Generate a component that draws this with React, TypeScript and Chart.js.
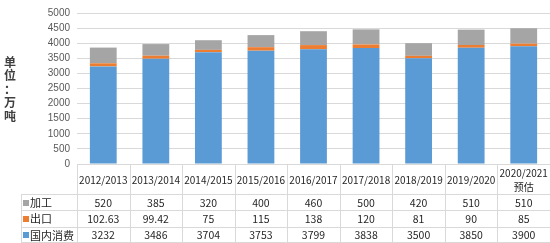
import { useEffect, useRef } from "react";
import { Chart, registerables } from "chart.js";

Chart.register(...registerables);

const categories = [
  "2012/2013",
  "2013/2014",
  "2014/2015",
  "2015/2016",
  "2016/2017",
  "2017/2018",
  "2018/2019",
  "2019/2020",
  "2020/2021\n预估",
];
const domestic = [3232, 3486, 3704, 3753, 3799, 3838, 3500, 3850, 3900]; // 国内消费
const exportsData = [102.63, 99.42, 75, 115, 138, 120, 81, 90, 85]; // 出口
const processing = [520, 385, 320, 400, 460, 500, 420, 510, 510]; // 加工
const yMax = 5000;
const yStep = 500;
const unitLabel = ["单", "位", "：", "万", "吨"];

const BLUE = "#5b9bd5";
const ORANGE = "#ed7d31";
const GRAY = "#a5a5a5";
const LINE = "#d9d9d9";
const TEXT = "#262626";
const CJK = '"Noto Sans CJK SC", "Noto Sans", sans-serif';

const tablePlugin = {
  id: "dataTable",
  afterDraw(chart: any) {
    const { ctx, chartArea, scales } = chart;
    const xs = scales.x;
    const n = categories.length;
    const left = chartArea.left;
    const right = chartArea.right;
    const colW = (right - left) / n;
    const top = chartArea.bottom;
    const bottom = chart.height;
    const headerH = 30;
    const rowH = (bottom - top - headerH) / 3;
    const legendLeft = 21;
    const c = (v: number) => Math.round(v) + 0.5;

    ctx.save();
    ctx.strokeStyle = LINE;
    ctx.lineWidth = 1;
    ctx.beginPath();
    for (let i = 0; i <= n; i++) {
      const xx = c(left + i * colW);
      ctx.moveTo(xx, top);
      ctx.lineTo(xx, bottom);
    }
    ctx.moveTo(c(legendLeft), top + headerH);
    ctx.lineTo(c(legendLeft), bottom);
    for (let r = 0; r <= 3; r++) {
      const yy = Math.min(c(top + headerH + r * rowH), bottom - 0.5);
      ctx.moveTo(legendLeft, yy);
      ctx.lineTo(right, yy);
    }
    ctx.stroke();

    ctx.fillStyle = TEXT;
    ctx.textAlign = "center";
    ctx.textBaseline = "middle";
    ctx.font = `10px ${CJK}`;
    categories.forEach((cat, i) => {
      const cx = xs.getPixelForValue(i);
      const lines = cat.split("\n");
      const lh = 14;
      const cy = top + headerH / 2 + 1;
      lines.forEach((ln, k) => {
        ctx.fillText(ln, cx, cy + (k - (lines.length - 1) / 2) * lh);
      });
    });

    const ds = chart.data.datasets.slice().reverse();
    ds.forEach((d: any, r: number) => {
      const cy = top + headerH + r * rowH + rowH / 2 + 0.5;
      ctx.fillStyle = d.backgroundColor;
      ctx.fillRect(23, Math.round(cy - 3), 6, 6);
      ctx.fillStyle = TEXT;
      ctx.textAlign = "left";
      ctx.font = `11px ${CJK}`;
      ctx.fillText(d.label, 30, cy);
      ctx.textAlign = "center";
      ctx.font = `10.5px ${CJK}`;
      d.data.forEach((v: number, i: number) => {
        ctx.fillText(String(v), xs.getPixelForValue(i), cy);
      });
    });

    ctx.fillStyle = "#404040";
    ctx.font = `bold 12px ${CJK}`;
    ctx.textAlign = "center";
    unitLabel.forEach((ch, k) => {
      ctx.fillText(ch, 10, 62 + k * 13.5);
    });
    ctx.restore();
  },
};

export default function App() {
  const ref = useRef<HTMLCanvasElement | null>(null);
  useEffect(() => {
    document.body.style.margin = "0";
    const canvas = ref.current!;
    const chart = new Chart(canvas, {
      type: "bar",
      data: {
        labels: categories,
        datasets: [
          { label: "国内消费", data: domestic, backgroundColor: BLUE },
          { label: "出口", data: exportsData, backgroundColor: ORANGE },
          { label: "加工", data: processing, backgroundColor: GRAY },
        ],
      },
      options: {
        responsive: false,
        animation: false,
        events: [],
        layout: { padding: { left: 0, right: 0, top: 9, bottom: 79 } },
        datasets: {
          bar: { categoryPercentage: 1, barPercentage: 0.51 },
        },
        plugins: {
          legend: { display: false },
          tooltip: { enabled: false },
        },
        scales: {
          x: {
            stacked: true,
            display: false,
          },
          y: {
            stacked: true,
            min: 0,
            max: yMax,
            ticks: {
              stepSize: yStep,
              padding: 7,
              color: "#595959",
              font: { family: '"Liberation Sans", Arial, sans-serif', size: 10 },
              callback: (v: any) => String(v),
            },
            grid: { color: LINE, drawTicks: false },
            border: { display: false },
            afterFit: (scale: any) => {
              scale.width = 77;
            },
          },
        },
      },
      plugins: [tablePlugin],
    });
    return () => chart.destroy();
  }, []);
  return (
    <div style={{ width: 550, height: 243 }}>
      <canvas ref={ref} width={550} height={243} style={{ display: "block" }} />
    </div>
  );
}
